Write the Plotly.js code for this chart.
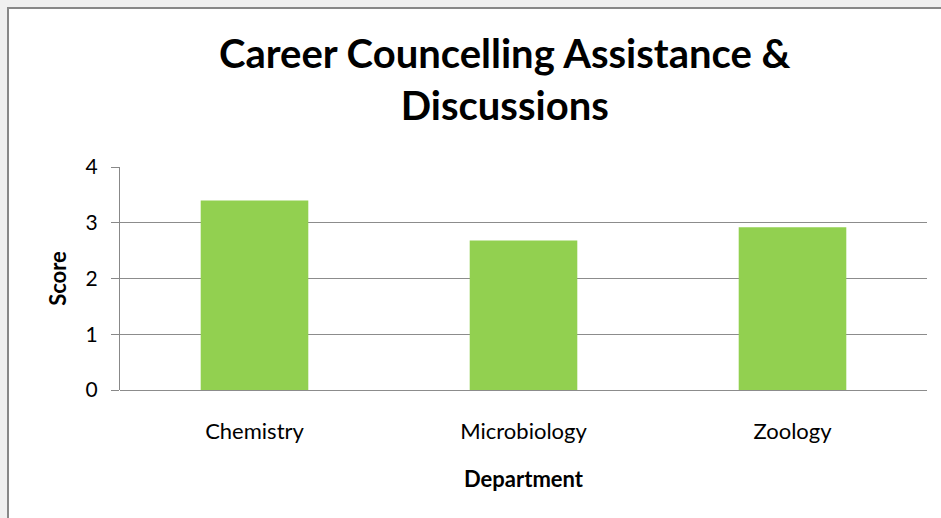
<!DOCTYPE html>
<html>
<head>
<meta charset="utf-8">
<script src="https://cdn.plot.ly/plotly-3.0.1.min.js"></script>
<style>
  html, body { margin: 0; padding: 0; background: #f0f0f0; width: 941px; height: 518px; overflow: hidden; }
  #frame { position: absolute; left: 7px; top: 7px; border-left: 2px solid #888888; border-top: 2px solid #888888; background: #ffffff; }
  #chart { width: 932px; height: 509px; }
</style>
</head>
<body>
<div id="frame"><div id="chart"></div></div>
<script>
const departments = ["Chemistry", "Microbiology", "Zoology"];
const scores = [3.40, 2.68, 2.92];
const yTicks = [0, 1, 2, 3, 4];
const chartTitle = "Career Councelling Assistance &amp;<br>Discussions";

const FONT = "Lato, 'Open Sans', sans-serif";

const trace = {
  type: "bar",
  x: departments,
  y: scores,
  marker: { color: "#92D050", line: { width: 0 } },
  hoverinfo: "x+y"
};

const layout = {
  width: 932,
  height: 509,
  margin: { l: 111, r: 14, t: 158, b: 128 },
  paper_bgcolor: "#ffffff",
  plot_bgcolor: "#ffffff",
  bargap: 0.6,
  showlegend: false,
  font: { family: FONT, color: "#000000" },
  annotations: [{
    text: "<b>" + chartTitle + "</b>",
    xref: "paper", yref: "paper",
    x: 0.477, y: 1.63,
    xanchor: "center", yanchor: "top",
    showarrow: false,
    align: "center",
    font: { family: FONT, size: 40, color: "#000000" }
  }],
  xaxis: {
    type: "category",
    showline: false,
    ticks: "",
    tickfont: { family: FONT, size: 22, color: "#000000" },
    ticklabelstandoff: 26,
    title: { text: "<b>Department</b>", font: { family: FONT, size: 22, color: "#000000" }, standoff: 28 }
  },
  yaxis: {
    range: [0, 4],
    tickvals: yTicks,
    ticktext: yTicks.map(String),
    showline: true,
    linecolor: "#888888",
    linewidth: 1,
    ticks: "outside",
    ticklen: 8,
    tickcolor: "#888888",
    gridcolor: "#8c8c8c",
    gridwidth: 1,
    zeroline: true,
    zerolinecolor: "#8c8c8c",
    zerolinewidth: 1,
    tickfont: { family: FONT, size: 21, color: "#000000" },
    ticklabelstandoff: 9,
    title: { text: "<b>Score</b>", font: { family: FONT, size: 22, color: "#000000" }, standoff: 12 }
  }
};

Plotly.newPlot("chart", [trace], layout, { displayModeBar: false, staticPlot: true });
</script>
</body>
</html>
